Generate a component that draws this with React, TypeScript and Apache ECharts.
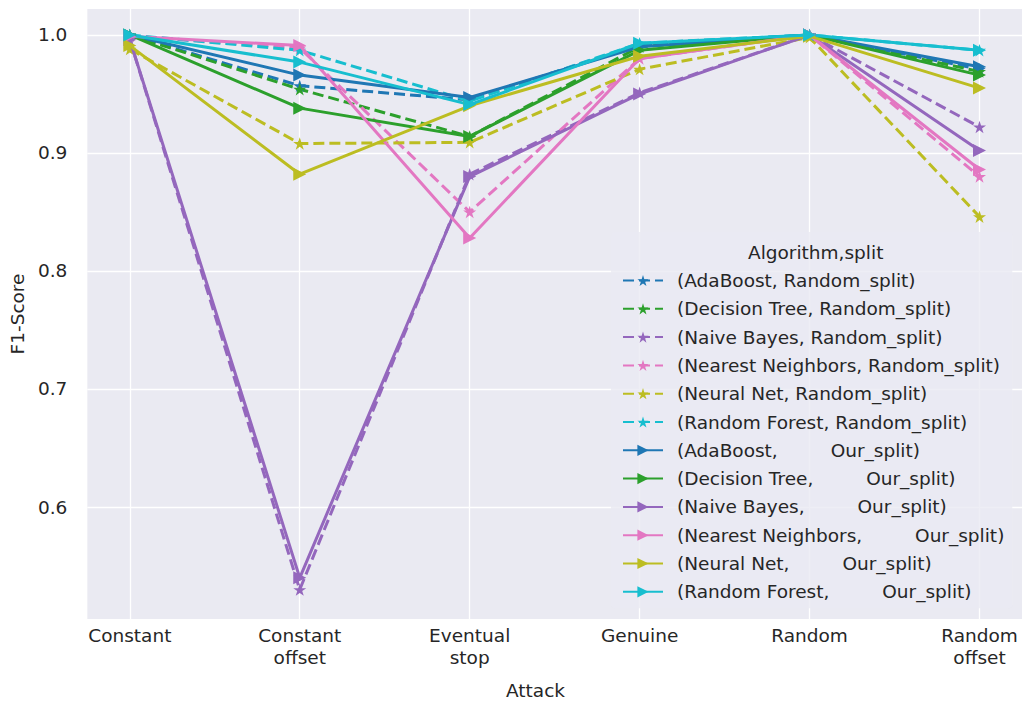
import React, { useEffect, useRef } from "react";
import * as echarts from "echarts";

const categories = ["Constant", "Constant\noffset", "Eventual\nstop", "Genuine", "Random", "Random\noffset"];
const algorithms = ["AdaBoost", "Decision Tree", "Naive Bayes", "Nearest Neighbors", "Neural Net", "Random Forest"];
const colors = ["#1f77b4", "#2ca02c", "#9467bd", "#e377c2", "#bcbd22", "#17becf"];
const yTicks = [0.6, 0.7, 0.8, 0.9, 1.0];

// Random_split (dashed, star markers)
const randomAdaBoost = [1.0, 0.957, 0.945, 0.992, 1.0, 0.971];
const randomDecisionTree = [1.0, 0.954, 0.914, 0.99, 1.0, 0.969];
const randomNaiveBayes = [0.996, 0.53, 0.882, 0.951, 1.0, 0.922];
const randomNearestNeighbors = [0.999, 0.989, 0.85, 0.98, 1.0, 0.88];
const randomNeuralNet = [0.988, 0.908, 0.909, 0.971, 0.998, 0.846];
const randomRandomForest = [1.0, 0.987, 0.944, 0.993, 1.0, 0.987];

// Our_split (solid, triangle markers)
const ourAdaBoost = [1.0, 0.966, 0.947, 0.99, 1.0, 0.973];
const ourDecisionTree = [1.0, 0.938, 0.914, 0.987, 1.0, 0.966];
const ourNaiveBayes = [0.996, 0.54, 0.88, 0.95, 1.0, 0.902];
const ourNearestNeighbors = [0.999, 0.991, 0.828, 0.98, 1.0, 0.886];
const ourNeuralNet = [0.991, 0.882, 0.94, 0.982, 0.999, 0.955];
const ourRandomForest = [1.0, 0.977, 0.941, 0.993, 1.0, 0.987];

const randomSplit = [randomAdaBoost, randomDecisionTree, randomNaiveBayes, randomNearestNeighbors, randomNeuralNet, randomRandomForest];
const ourSplit = [ourAdaBoost, ourDecisionTree, ourNaiveBayes, ourNearestNeighbors, ourNeuralNet, ourRandomForest];

const STAR =
  "path://M0,-1L0.2245,-0.309L0.951,-0.309L0.363,0.118L0.588,0.809L0,0.382L-0.588,0.809L-0.363,0.118L-0.951,-0.309L-0.2245,-0.309Z";
const TRI_RIGHT = "path://M-1,-1L1,0L-1,1Z";

const FONT = "DejaVu Sans";
const TEXT = "#262626";
const FS = 18.5;

export default function App() {
  const ref = useRef<HTMLDivElement>(null);
  useEffect(() => {
    document.body.style.margin = "0";
    if (!ref.current) return;
    const chart = echarts.init(ref.current, undefined, { renderer: "svg" });
    const series: any[] = [];
    const legendNames: string[] = [];
    algorithms.forEach((alg, i) => {
      const name = `(${alg}, Random_split)`;
      legendNames.push(name);
      series.push({
        type: "line",
        name,
        data: randomSplit[i].map((v, k) => [k, v]),
        symbol: STAR,
        symbolSize: 13,
        symbolKeepAspect: true,
        lineStyle: { color: colors[i], width: 3, type: [11, 5] },
        itemStyle: { color: colors[i] },
        emphasis: { disabled: true },
        z: 2,
      });
    });
    algorithms.forEach((alg, i) => {
      const name = `(${alg},${" ".repeat(9)}Our_split)`;
      legendNames.push(name);
      series.push({
        type: "line",
        name,
        data: ourSplit[i].map((v, k) => [k, v]),
        symbol: TRI_RIGHT,
        symbolSize: 13,
        symbolKeepAspect: true,
        lineStyle: { color: colors[i], width: 3, type: "solid" },
        itemStyle: { color: colors[i] },
        emphasis: { disabled: true },
        z: 3,
      });
    });

    chart.setOption({
      animation: false,
      textStyle: { fontFamily: FONT },
      grid: {
        left: 87,
        top: 9,
        width: 941,
        height: 610,
        show: true,
        backgroundColor: "#EAEAF2",
        borderWidth: 0,
        containLabel: false,
      },
      xAxis: {
        type: "value",
        min: -0.25,
        max: 5.25,
        axisLine: { show: false },
        axisTick: { show: false, customValues: [0, 1, 2, 3, 4, 5] },
        axisLabel: {
          customValues: [0, 1, 2, 3, 4, 5],
          formatter: (v: number) => categories[Math.round(v)] ?? "",
          color: TEXT,
          fontSize: FS,
          fontFamily: FONT,
          lineHeight: 21.5,
          margin: 6,
        },
        splitLine: { show: true, lineStyle: { color: "#ffffff", width: 1.3 } },
      },
      yAxis: {
        type: "value",
        min: 0.5051,
        max: 1.022,
        name: "F1-Score",
        nameLocation: "middle",
        nameGap: 57,
        nameTextStyle: { color: TEXT, fontSize: FS, fontFamily: FONT },
        axisLine: { show: false },
        axisTick: { show: false, customValues: yTicks },
        axisLabel: {
          customValues: yTicks,
          formatter: (v: number) => v.toFixed(1),
          color: TEXT,
          fontSize: FS,
          fontFamily: FONT,
          margin: 20,
        },
        splitLine: { show: true, lineStyle: { color: "#ffffff", width: 1.3 } },
      },
      legend: {
        show: true,
        orient: "vertical",
        left: 611,
        top: 232,
        padding: [39, 8, 7, 11],
        itemWidth: 40,
        itemHeight: 14,
        itemGap: 9.3,
        backgroundColor: "rgba(234,234,242,0.8)",
        borderRadius: 4,
        data: legendNames,
        textStyle: { color: TEXT, fontSize: FS, fontFamily: FONT, padding: [0, 0, 0, 9] },
      },
      graphic: [
        {
          type: "text",
          left: 538 - 32,
          top: 681,
          style: { text: "Attack", fill: TEXT, fontSize: FS, fontFamily: FONT },
        },
        {
          type: "text",
          left: 748,
          top: 243,
          z: 10,
          style: { text: "Algorithm,split", fill: TEXT, fontSize: FS, fontFamily: FONT },
        },
      ],
      series,
    });
    return () => chart.dispose();
  }, []);
  return <div ref={ref} style={{ width: 1022, height: 702 }} />;
}
